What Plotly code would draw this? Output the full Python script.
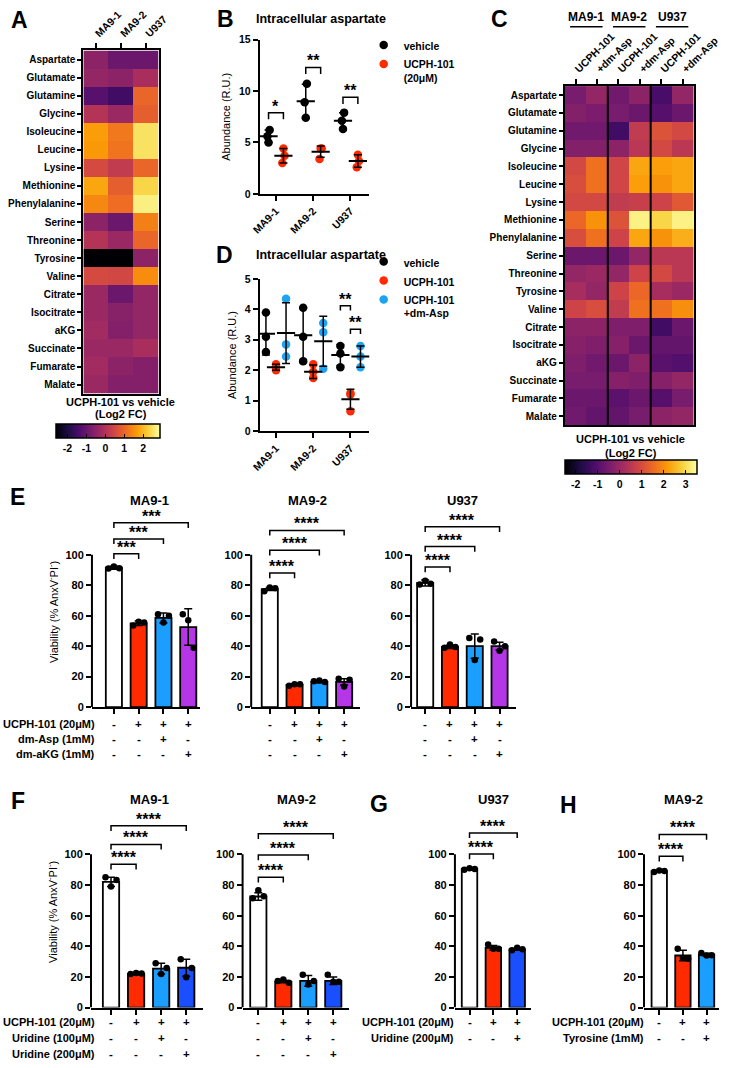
import plotly.graph_objects as go

W, H = 752, 1068
FONT = "Liberation Sans"


def fx(px):
    return px / W


def fy(py):
    return 1 - py / H


# ====================== DATA ======================
metabolites = ["Aspartate", "Glutamate", "Glutamine", "Glycine", "Isoleucine", "Leucine",
               "Lysine", "Methionine", "Phenylalanine", "Serine", "Threonine", "Tyrosine",
               "Valine", "Citrate", "Isocitrate", "aKG", "Succinate", "Fumarate", "Malate"]

# Panel A: UCPH-101 vs vehicle (Log2 FC)
A_lines = ["MA9-1", "MA9-2", "U937"]
A_MA91 = [-0.5, -0.4, -1.2, 0.05, 1.7, 1.65, 0.55, 1.8, 1.45, -0.5, 0.05, -2.6, 0.55, -0.3, -0.3, -0.2, -0.3, -0.2, -0.3]
A_MA92 = [-0.95, -0.5, -1.5, -0.3, 1.25, 1.2, 0.25, 0.9, 1.1, -0.95, -0.3, -2.6, 0.5, -0.95, -0.55, -0.6, -0.3, -0.5, -0.6]
A_U937 = [-0.95, -0.1, 1.0, 0.9, 2.5, 2.5, 1.0, 2.35, 2.7, 1.35, 1.0, -0.5, 1.5, -0.4, -0.4, -0.4, -0.1, -0.6, -0.6]
A_ticks = [-2, -1, 0, 1, 2]
A_zmin, A_zmax = -2.6, 2.9

# Panel C
C_groups = ["MA9-1", "MA9-2", "U937"]
C_cond = ["UCPH-101", "+dm-Asp"]
C_MA91_ucph = [-0.5, -0.35, -0.6, -0.35, 0.9, 1.0, 0.9, 1.45, 1.0, -0.7, -0.1, 0.2, 0.8, -0.2, -0.3, -0.4, -0.5, -0.7, -0.6]
C_MA91_asp = [-0.1, -0.45, -0.6, -0.35, 1.6, 1.6, 0.9, 2.05, 1.6, -0.7, 0.0, -0.1, 1.0, -0.2, -0.4, -0.6, -0.5, -0.7, -0.8]
C_MA92_ucph = [-0.6, -0.5, -1.3, -0.2, 0.85, 0.85, 0.6, 1.1, 0.8, -0.7, -0.1, 0.8, 0.6, -0.4, -0.3, -0.7, -0.3, -0.9, -0.8]
C_MA92_asp = [-0.2, -0.7, 0.6, 0.5, 2.3, 2.2, 0.7, 3.3, 2.3, -0.1, 0.8, 1.45, 1.6, -0.4, -0.7, -0.2, -0.4, -0.7, -0.5]
C_U937_ucph = [-1.2, -1.0, 1.1, 0.9, 2.2, 2.05, 0.8, 2.9, 2.05, 0.5, 0.9, 0.2, 1.6, -1.3, -0.8, -0.95, -0.3, -1.0, -0.2]
C_U937_asp = [-0.1, -0.7, 0.9, 0.5, 2.3, 2.3, 1.2, 3.3, 2.4, 0.5, 0.5, 0.0, 2.0, -0.7, -0.8, -1.05, -0.1, -0.5, -0.1]
C_ticks = [-2, -1, 0, 1, 2, 3]
C_zmin, C_zmax = -2.5, 3.5

# Panel B: intracellular aspartate (R.U.)
B_lines = ["MA9-1", "MA9-2", "U937"]
B_vehicle_pts = [[6.2, 5.6, 5.0], [10.7, 8.9, 7.4], [7.9, 7.1, 6.3]]
B_vehicle_mean = [5.6, 9.0, 7.1]
B_vehicle_sd = [0.6, 1.65, 0.8]
B_ucph_pts = [[4.4, 3.7, 3.0], [4.4, 4.4, 3.4], [3.8, 3.2, 2.6]]
B_ucph_mean = [3.7, 4.1, 3.2]
B_ucph_sd = [0.7, 0.55, 0.6]
B_sig = ["*", "**", "**"]
B_sig_h = [7.9, 12.3, 9.4]

# Panel D
D_vehicle_pts = [[3.9, 3.1, 2.6], [4.05, 3.1, 2.3], [2.8, 2.55, 2.1]]
D_vehicle_mean = [3.2, 3.15, 2.5]
D_vehicle_sd = [0.7, 0.9, 0.35]
D_ucph_pts = [[2.2, 2.1, 2.0], [2.2, 1.95, 1.75], [1.25, 1.2, 0.65]]
D_ucph_mean = [2.1, 1.95, 1.05]
D_ucph_sd = [0.1, 0.22, 0.33]
D_asp_pts = [[4.35, 2.85, 2.45], [3.55, 3.25, 2.05], [2.8, 2.45, 2.1]]
D_asp_mean = [3.22, 2.95, 2.45]
D_asp_sd = [1.0, 0.82, 0.35]
D_sig = ["**", "**"]
D_sig_h = [4.12, 3.35]

# Panel E
E_cond = ["UCPH-101 (20μM)", "dm-Asp (1mM)", "dm-aKG (1mM)"]
E_signs = [["-", "+", "+", "+"], ["-", "-", "+", "-"], ["-", "-", "-", "+"]]
E_titles = ["MA9-1", "MA9-2", "U937"]
E_MA91_mean = [91.5, 55.0, 58.5, 52.5]
E_MA91_sd = [1.0, 1.5, 3.3, 12.0]
E_MA91_pts = [[91.0, 92.3, 91.2], [53.5, 56.0, 55.5], [61.0, 55.5, 60.0], [61.0, 57.0, 39.0]]
E_MA91_sig = [100.6, 110.4, 121.0]
E_MA92_mean = [77.5, 14.5, 16.5, 16.5]
E_MA92_sd = [1.0, 0.6, 0.5, 2.0]
E_MA92_pts = [[76.0, 78.5, 78.0], [14.0, 15.0, 15.0], [17.0, 17.5, 16.5], [18.5, 13.5, 18.0]]
E_MA92_sig = [88.0, 103.0, 116.0]
E_U937_mean = [81.5, 39.5, 40.0, 40.0]
E_U937_sd = [2.0, 1.0, 8.0, 2.5]
E_U937_pts = [[80.5, 83.0, 81.0], [39.0, 41.0, 39.5], [45.4, 30.9, 44.3], [43.0, 37.0, 40.0]]
E_U937_sig = [92.0, 105.4, 118.4]
E_stars = ["***", "****", "****"]

# Panel F
F_cond = ["UCPH-101 (20μM)", "Uridine (100μM)", "Uridine (200μM)"]
F_signs = [["-", "+", "+", "+"], ["-", "-", "+", "-"], ["-", "-", "-", "+"]]
F_titles = ["MA9-1", "MA9-2"]
F_MA91_mean = [82.0, 22.0, 25.5, 26.0]
F_MA91_sd = [3.0, 0.5, 3.5, 5.5]
F_MA91_pts = [[85.0, 79.0, 83.2], [22.0, 22.6, 22.2], [29.0, 21.9, 25.8], [31.6, 19.8, 25.8]]
F_MA91_sig = [93.5, 106.5, 118.7]
F_MA92_mean = [72.5, 17.0, 17.5, 17.5]
F_MA92_sd = [2.5, 0.8, 3.5, 2.5]
F_MA92_pts = [[71.4, 76.6, 72.7], [17.4, 18.3, 16.3], [21.5, 15.0, 17.4], [21.5, 16.8, 16.8]]
F_MA92_sig = [85.0, 99.6, 113.5]

# Panel G
G_cond = ["UCPH-101 (20μM)", "Uridine (200μM)"]
G_signs = [["-", "+", "+"], ["-", "-", "+"]]
G_mean = [90.5, 39.0, 38.0]
G_sd = [0.5, 1.5, 0.6]
G_pts = [[90.0, 91.0, 90.5], [41.2, 38.4, 38.4], [37.5, 39.0, 38.0]]
G_sig = [100.2, 114.0]

# Panel H
H_cond = ["UCPH-101 (20μM)", "Tyrosine (1mM)"]
H_signs = [["-", "+", "+"], ["-", "-", "+"]]
H_mean = [89.0, 34.0, 34.5]
H_sd = [0.4, 3.5, 1.0]
H_pts = [[88.5, 89.5, 89.2], [38.4, 32.3, 31.9], [35.6, 34.0, 34.2]]
H_sig = [98.7, 113.0]

# ====================== STYLE ======================
BLACK = "black"
RED = "#ff2a00"
BLUE = "#1a9eff"
DBLUE = "#1a4fff"
PURPLE = "#b436e6"
DOTBLUE = "#1ea3f2"
STAR = 16


def tfont(size=10.5, bold=True):
    return dict(family=FONT, size=size, color="black", weight="bold" if bold else "normal")


traces = []
shapes = []
annotations = []
layout = dict(width=W, height=H, margin=dict(l=0, r=0, t=0, b=0),
              paper_bgcolor="white", plot_bgcolor="white",
              font=dict(family=FONT, color="black"), showlegend=True)


def ann(x, y, text, size=11, bold=True, xanchor="center", yanchor="middle", xref="paper", yref="paper", **kw):
    annotations.append(dict(x=x, y=y, text=text, xref=xref, yref=yref, showarrow=False,
                            xanchor=xanchor, yanchor=yanchor, font=tfont(size, bold), **kw))


def axis(**kw):
    d = dict(showgrid=False, zeroline=False, linecolor="black", linewidth=2,
             tickcolor="black", tickwidth=1.5, ticklen=4, ticks="outside",
             tickfont=tfont(10.5), showline=True)
    d.update(kw)
    return d


def cbar(cx, top, length, ticks):
    return dict(orientation="h", x=fx(cx), xanchor="center", y=fy(top), yanchor="top",
                lenmode="pixels", len=length, thickness=14, outlinewidth=1.5, outlinecolor="black",
                ticks="inside", ticklen=4, tickwidth=1.2, tickcolor="black",
                tickvals=ticks, ticktext=[str(t) for t in ticks],
                tickfont=tfont(10.5), xpad=0, ypad=0)


# ---------------- Panel A heatmap ----------------
zA = [[A_MA91[i], A_MA92[i], A_U937[i]] for i in range(len(metabolites))]
traces.append(go.Heatmap(
    z=zA, x=A_lines, y=metabolites, xaxis="x", yaxis="y", colorscale="Inferno",
    zmin=A_zmin, zmax=A_zmax, hoverinfo="skip", colorbar=cbar(104, 423, 104, A_ticks)))
layout["xaxis"] = axis(domain=[fx(78), fx(157)], anchor="y", side="top", tickangle=-45,
                       mirror=True, ticklen=5, tickfont=tfont(10.5))
layout["yaxis"] = axis(domain=[fy(392), fy(45)], anchor="x", autorange="reversed",
                       mirror=True, ticklen=4, tickfont=tfont(10))
ann(fx(117), fy(400), "UCPH-101 vs vehicle", size=11)
ann(fx(117), fy(413), "(Log2 FC)", size=11)

# ---------------- Panel C heatmap ----------------
C_data = [C_MA91_ucph, C_MA91_asp, C_MA92_ucph, C_MA92_asp, C_U937_ucph, C_U937_asp]
C_labels = [c for _ in C_groups for c in C_cond]
zC = [[col[i] for col in C_data] for i in range(len(metabolites))]
traces.append(go.Heatmap(
    z=zC, x=list(range(len(C_labels))), y=metabolites, xaxis="x3", yaxis="y3",
    colorscale="Inferno", zmin=C_zmin, zmax=C_zmax, hoverinfo="skip",
    colorbar=cbar(652, 459, 132, C_ticks)))
layout["xaxis3"] = axis(domain=[fx(583), fx(718)], anchor="y3", side="top", tickangle=-45,
                        mirror=True, ticklen=5, tickvals=list(range(len(C_labels))),
                        ticktext=C_labels, range=[-0.5, len(C_labels) - 0.5], tickfont=tfont(10.5))
layout["yaxis3"] = axis(domain=[fy(424), fy(81)], anchor="x3", autorange="reversed",
                        mirror=True, tickfont=tfont(10))
for k in range(1, len(C_groups)):
    shapes.append(dict(type="line", xref="x3", yref="y3 domain", x0=2 * k - 0.5, x1=2 * k - 0.5,
                       y0=0, y1=1, line=dict(color="black", width=2)))
for k, g in enumerate(C_groups):
    cx = 605.5 + 45 * k
    ann(fx(cx), fy(11), g, size=12)
    shapes.append(dict(type="line", xref="paper", yref="paper", x0=fx(cx - 17), x1=fx(cx + 17),
                       y0=fy(21), y1=fy(21), line=dict(color="black", width=1.5)))
ann(fx(652), fy(438), "UCPH-101 vs vehicle", size=11)
ann(fx(652), fy(452), "(Log2 FC)", size=11)


# ---------------- Panels B & D (dot plots) ----------------
def dot_series(xa, ya, pts, off, color, name, legend, jit):
    xs, ys = [], []
    for g, p in enumerate(pts):
        for j, v in enumerate(p):
            xs.append(g + 1 + off + jit[j])
            ys.append(v)
    traces.append(go.Scatter(x=xs, y=ys, mode="markers", xaxis=xa, yaxis=ya, name=name,
                             legend=legend, marker=dict(color=color, size=8.5),
                             hoverinfo="skip"))
    return [g + 1 + off for g in range(len(pts))]


def mean_sd(xa, ya, xs, mean, sd, size=13):
    traces.append(go.Scatter(x=xs, y=mean, mode="markers", xaxis=xa, yaxis=ya, showlegend=False,
                             marker=dict(symbol="line-ew", size=size, color="black",
                                         line=dict(width=2, color="black")),
                             error_y=dict(type="data", array=sd, color="black", thickness=1.5, width=4),
                             hoverinfo="skip"))


def bracket_trace(xa, ya, x0, x1, h, arm, width=1.5):
    traces.append(go.Scatter(x=[x0, x0, x1, x1], y=[h - arm, h, h, h - arm], mode="lines",
                             xaxis=xa, yaxis=ya, showlegend=False, hoverinfo="skip",
                             line=dict(color="black", width=width)))


# B
xv = dot_series("x2", "y2", B_vehicle_pts, -0.2, BLACK, "vehicle", "legend", [0.03, -0.03, 0.0])
xu = dot_series("x2", "y2", B_ucph_pts, 0.2, RED, "UCPH-101<br>(20μM)", "legend", [0.0, 0.03, -0.03])
mean_sd("x2", "y2", xv, B_vehicle_mean, B_vehicle_sd)
mean_sd("x2", "y2", xu, B_ucph_mean, B_ucph_sd)
for g in range(len(B_lines)):
    bracket_trace("x2", "y2", xv[g], xu[g], B_sig_h[g], 0.65)
    ann((xv[g] + xu[g]) / 2, B_sig_h[g], B_sig[g], size=STAR, xref="x2", yref="y2", yanchor="bottom", yshift=-4)
layout["xaxis2"] = axis(domain=[fx(263), fx(378)], anchor="y2", range=[0.564, 3.51],
                        tickvals=[1, 2, 3], ticktext=B_lines, tickangle=-45, ticklen=5)
layout["yaxis2"] = axis(domain=[fy(190), fy(34)], anchor="x2", range=[0, 15],
                        tickvals=[0, 5, 10, 15], ticklen=5,
                        title=dict(text="Abundance (R.U.)", font=tfont(11, False), standoff=6))
layout["legend"] = dict(x=fx(372), y=fy(26), xanchor="left", yanchor="top", font=tfont(10.5),
                        bgcolor="rgba(0,0,0,0)", itemwidth=30, tracegroupgap=0, valign="top")

# D
xdv = dot_series("x4", "y4", D_vehicle_pts, -0.27, BLACK, "vehicle", "legend2", [0, 0, 0])
xdu = dot_series("x4", "y4", D_ucph_pts, 0.0, RED, "UCPH-101", "legend2", [0, 0, 0])
xda = dot_series("x4", "y4", D_asp_pts, 0.27, DOTBLUE, "UCPH-101<br>+dm-Asp", "legend2", [0, 0, 0])
mean_sd("x4", "y4", xdv, D_vehicle_mean, D_vehicle_sd)
mean_sd("x4", "y4", xdu, D_ucph_mean, D_ucph_sd)
mean_sd("x4", "y4", xda, D_asp_mean, D_asp_sd)
bracket_trace("x4", "y4", xdv[2], xdu[2], D_sig_h[0], 0.16)
ann((xdv[2] + xdu[2]) / 2, D_sig_h[0], D_sig[0], size=STAR, xref="x4", yref="y4", yanchor="bottom", yshift=-4)
bracket_trace("x4", "y4", xdu[2], xda[2], D_sig_h[1], 0.16)
ann((xdu[2] + xda[2]) / 2, D_sig_h[1], D_sig[1], size=STAR, xref="x4", yref="y4", yanchor="bottom", yshift=-4)
layout["xaxis4"] = axis(domain=[fx(263), fx(378)], anchor="y4", range=[0.564, 3.51],
                        tickvals=[1, 2, 3], ticktext=B_lines, tickangle=-45, ticklen=5)
layout["yaxis4"] = axis(domain=[fy(430), fy(276)], anchor="x4", range=[0, 5],
                        tickvals=[0, 1, 2, 3, 4, 5], ticklen=5,
                        title=dict(text="Abundance (R.U.)", font=tfont(11, False), standoff=6))
layout["legend2"] = dict(x=fx(372), y=fy(245), xanchor="left", yanchor="top", font=tfont(10.5),
                         bgcolor="rgba(0,0,0,0)", itemwidth=30, tracegroupgap=0, valign="top")

# Panel titles / letters
ann(fx(257), fy(13), "Intracellular aspartate", size=12.5, xanchor="left")
ann(fx(257), fy(252), "Intracellular aspartate", size=12.5, xanchor="left")
for letter, (lx, ly) in {"A": (11, 14), "B": (227, 13), "C": (514, 13), "D": (226, 252),
                         "E": (9, 497), "F": (9, 804), "G": (388, 807), "H": (587, 808)}.items():
    ann(fx(lx), fy(ly), letter, size=23)


# ---------------- Bar panels ----------------
def bar_panel(idx, geo, mean, sd, pts, colors, sig, stars, title, signs, sign_rows,
              cond=None, cond_right=None, ytitle=False):
    xa, ya = f"x{idx}", f"y{idx}"
    n = len(mean)
    sp = geo["sp"]
    xr = [-(geo["b0"] - geo["ax"]) / sp, (n - 1) + (geo["end"] - (geo["b0"] + (n - 1) * sp)) / sp]
    ppu = (geo["y0"] - geo["y100"]) / 100.0
    top = geo["y0"] - 125 * ppu
    traces.append(go.Bar(x=list(range(n)), y=mean, xaxis=xa, yaxis=ya, width=0.65,
                         marker=dict(color=colors, line=dict(color="black", width=1.8)),
                         error_y=dict(type="data", array=sd, color="black", thickness=1.5, width=4),
                         showlegend=False, hoverinfo="skip"))
    jit = [-0.22, 0.0, 0.22]
    xs, ys = [], []
    for b, p in enumerate(pts):
        for j, v in enumerate(p):
            xs.append(b + jit[j])
            ys.append(v)
    traces.append(go.Scatter(x=xs, y=ys, mode="markers", xaxis=xa, yaxis=ya, showlegend=False,
                             marker=dict(color="black", size=6.5), hoverinfo="skip"))
    for k, h in enumerate(sig):
        bracket_trace(xa, ya, 0, k + 1, h, 3.4)
        ann((k + 1) / 2, h, stars, size=STAR, xref=xa, yref=ya, yanchor="bottom", yshift=-4)
    layout[f"xaxis{idx}"] = axis(domain=[fx(geo["ax"]), fx(geo["end"])], anchor=ya, range=xr,
                                 tickvals=list(range(n)), showticklabels=False, ticklen=5)
    yax = axis(domain=[fy(geo["y0"]), fy(top)], anchor=xa, range=[0, 125], showline=False,
               tickvals=[0, 20, 40, 60, 80, 100], ticklen=5, tickfont=tfont(11))
    if ytitle:
        yax["title"] = dict(text="Viability (% AnxV<sup>-</sup>PI<sup>-</sup>)", font=tfont(11, False), standoff=4)
    layout[f"yaxis{idx}"] = yax
    shapes.append(dict(type="line", xref=f"{xa} domain", yref=ya, x0=0, x1=0, y0=0, y1=100,
                       line=dict(color="black", width=2)))
    ann(fx(geo["title"]), fy(geo["ty"]), title, size=13)
    for r, row in enumerate(signs):
        for b, s in enumerate(row):
            ann(b, fy(sign_rows[r]), s, size=11.5, xref=xa, yref="paper")
    if cond:
        for r, c in enumerate(cond):
            ann(fx(cond_right), fy(sign_rows[r]), c, size=11, xanchor="right")


E_rows = [726, 741, 756]
FGH_rows = [1028, 1044, 1060]
cE = ["white", RED, BLUE, PURPLE]
cF = ["white", RED, BLUE, DBLUE]
bar_panel(5, dict(ax=87, b0=110, sp=26, end=200, y0=709, y100=555, title=147, ty=500),
          E_MA91_mean, E_MA91_sd, E_MA91_pts, cE, E_MA91_sig, E_stars[0], E_titles[0],
          E_signs, E_rows, E_cond, 92, ytitle=True)
bar_panel(6, dict(ax=254, b0=273.5, sp=26, end=368, y0=709, y100=555, title=313, ty=500),
          E_MA92_mean, E_MA92_sd, E_MA92_pts, cE, E_MA92_sig, E_stars[1], E_titles[1],
          E_signs, E_rows)
bar_panel(7, dict(ax=421.7, b0=436.5, sp=26, end=532, y0=709, y100=555, title=476, ty=500),
          E_U937_mean, E_U937_sd, E_U937_pts, cE, E_U937_sig, E_stars[2], E_titles[2],
          E_signs, E_rows)
bar_panel(8, dict(ax=86, b0=107, sp=26.3, end=203, y0=1013, y100=858, title=147, ty=803),
          F_MA91_mean, F_MA91_sd, F_MA91_pts, cF, F_MA91_sig, "****", F_titles[0],
          F_signs, FGH_rows, F_cond, 92, ytitle=True)
bar_panel(9, dict(ax=245, b0=261.5, sp=26.2, end=357, y0=1013, y100=858, title=302, ty=803),
          F_MA92_mean, F_MA92_sd, F_MA92_pts, cF, F_MA92_sig, "****", F_titles[1],
          F_signs, FGH_rows)
bar_panel(10, dict(ax=467.7, b0=483, sp=25, end=548, y0=1013, y100=858, title=508, ty=803),
          G_mean, G_sd, G_pts, ["white", RED, DBLUE], G_sig, "****", "U937",
          G_signs, FGH_rows, G_cond, 469)
bar_panel(11, dict(ax=666, b0=682, sp=24.8, end=745, y0=1013, y100=858, title=707, ty=803),
          H_mean, H_sd, H_pts, ["white", RED, BLUE], H_sig, "****", "MA9-2",
          H_signs, FGH_rows, H_cond, 668)

layout["shapes"] = shapes
layout["annotations"] = annotations
fig = go.Figure(data=traces, layout=layout)
fig.write_html("out.html")
